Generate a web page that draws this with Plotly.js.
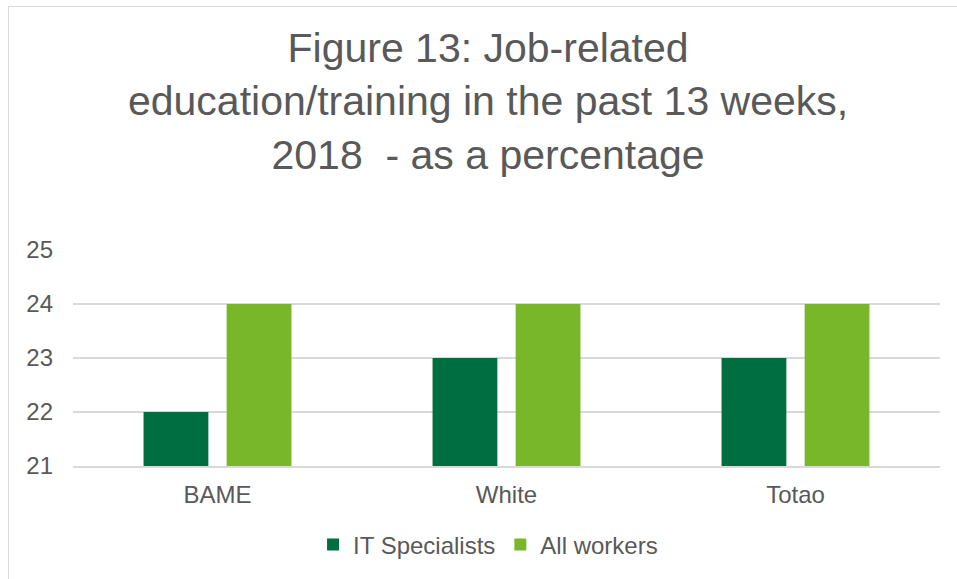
<!DOCTYPE html>
<html>
<head>
<meta charset="utf-8">
<script src="https://cdn.plot.ly/plotly-3.0.1.min.js"></script>
<style>
  html, body { margin: 0; padding: 0; background: #fff; }
  #chart { width: 957px; height: 579px; }
  #frame { position: absolute; left: 8px; top: 6px; width: 960px; height: 600px;
           border-left: 1px solid #d9d9d9; border-top: 1px solid #d9d9d9; pointer-events: none; }
</style>
</head>
<body>
<div id="chart"></div>
<div id="frame"></div>
<script>
var categories = ['BAME', 'White', 'Totao'];
var itSpecialists = [22, 23, 23];
var allWorkers = [24, 24, 24];

var IT = {
    type: 'bar',
    x: categories,
    y: itSpecialists,
    name: 'IT Specialists',
    marker: {color: '#006E41'}
}

var All = {
    type: 'bar',
    x: categories,
    y: allWorkers,
    name: 'All workers',
    marker: {color: '#78B72A'}
}

var data = [IT, All]

var layout = {
    width: 957,
    height: 579,
    font: {family: 'Liberation Sans, Arial, sans-serif', color: '#595959', size: 24},
    title: {
        text: 'Figure 13: Job-related<br>education/training in the past 13 weeks,<br>2018  - as a percentage',
        font: {size: 41, color: '#595959'},
        xref: 'container', x: 0.51, xanchor: 'center',
        yref: 'container', y: 0.893, yanchor: 'top'
    },
    margin: {l: 73, r: 17, t: 250, b: 113},
    barmode: 'group',
    bargap: 0.425,
    bargroupgap: 0.22,
    xaxis: {
        showline: true, linecolor: '#d9d9d9', linewidth: 2,
        ticks: '', ticklabelstandoff: 6, tickfont: {size: 24, color: '#595959'}
    },
    yaxis: {
        range: [21, 25], dtick: 1, showgrid: true, gridcolor: '#d9d9d9', gridwidth: 2,
        zeroline: false, ticks: '', ticklabelstandoff: 19,
        tickfont: {size: 24, color: '#595959'}
    },
    legend: {
        orientation: 'h', xref: 'container', x: 0.51, xanchor: 'center',
        yref: 'container', y: 0.02, yanchor: 'bottom',
        font: {size: 24, color: '#595959'}
    },
    paper_bgcolor: '#fff',
    plot_bgcolor: '#fff'
}

Plotly.newPlot('chart', data, layout, {displayModeBar: false});
</script>
</body>
</html>
